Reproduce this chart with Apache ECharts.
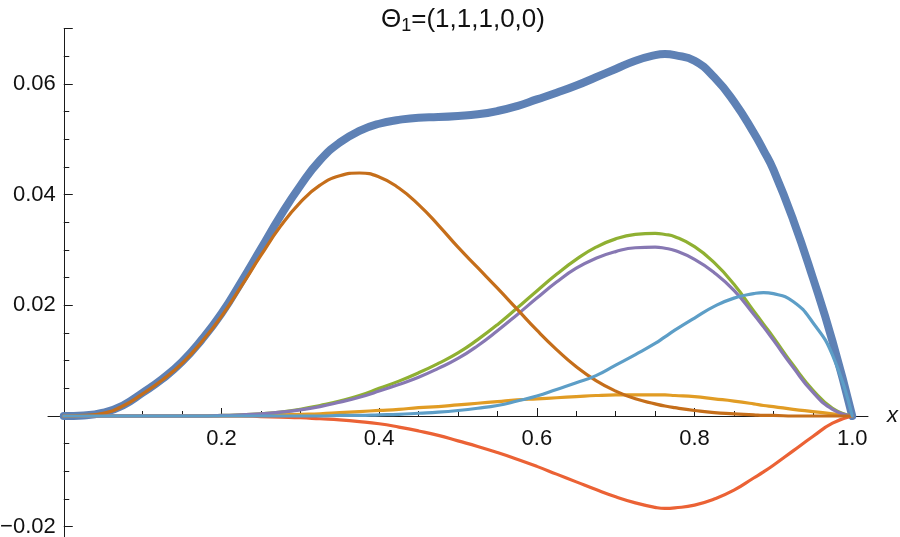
<!DOCTYPE html>
<html>
<head>
<meta charset="utf-8">
<script src="https://cdn.jsdelivr.net/npm/echarts@6/dist/echarts.min.js"></script>
<style>
  html, body { margin: 0; padding: 0; background: #fff; }
  #main { width: 900px; height: 537px; }
</style>
</head>
<body>
<div id="main"></div>
<script>
// sample points along x (extra points near the peaks)
var xs = [0, 0.025, 0.05, 0.075, 0.1, 0.125, 0.15, 0.175, 0.2, 0.225, 0.25, 0.275, 0.3, 0.325, 0.35, 0.375, 0.4, 0.425, 0.45, 0.475, 0.5,
    0.525, 0.55, 0.575, 0.6, 0.625, 0.65, 0.675, 0.7, 0.725, 0.75, 0.7625, 0.775, 0.8, 0.825, 0.85, 0.875, 0.8875, 0.9, 0.925, 0.95, 0.975, 1]

// thick blue: total
var total = [0, 0.0001, 0.0006, 0.0019, 0.0042, 0.0067, 0.0098, 0.0138, 0.0185, 0.0242, 0.0302, 0.0362, 0.0416, 0.0462, 0.0494, 0.0515, 0.0528, 0.0535, 0.0539, 0.054, 0.0542,
    0.0545, 0.0551, 0.056, 0.0572, 0.0584, 0.0597, 0.0612, 0.0627, 0.0642, 0.0652, 0.0654, 0.0652, 0.0642, 0.0612, 0.0568, 0.0512, 0.048, 0.0445, 0.0355, 0.025, 0.0135, 0]
// orange
var f1 = [0, 0, 0, 0, 0, 0, 0, 0, 0, 0, 0.0001, 0.0002, 0.0003, 0.0004, 0.0006, 0.0008, 0.001, 0.0012, 0.0015, 0.0017, 0.002,
    0.0023, 0.0026, 0.0029, 0.0031, 0.0033, 0.0035, 0.0037, 0.0038, 0.0038, 0.0038, 0.0038, 0.0037, 0.0035, 0.0031, 0.0027, 0.0022, 0.0019, 0.0017, 0.0012, 0.0008, 0.0004, 0]
// green
var f2 = [0, 0, 0, 0, 0, 0, 0, 0, 0.0001, 0.0002, 0.0004, 0.0007, 0.0012, 0.0019, 0.0027, 0.0037, 0.005, 0.0063, 0.0078, 0.0095, 0.0114,
    0.0138, 0.0165, 0.0195, 0.0226, 0.0256, 0.0283, 0.0305, 0.032, 0.0328, 0.033, 0.0328, 0.0324, 0.0306, 0.0277, 0.0238, 0.019, 0.0166, 0.0142, 0.0092, 0.0047, 0.0014, 0]
// red (negative)
var f3 = [0, 0, 0, 0, 0, 0, 0, 0, 0, 0, -0.0001, -0.0002, -0.0003, -0.0005, -0.0007, -0.001, -0.0014, -0.002, -0.0027, -0.0035, -0.0045,
    -0.0055, -0.0066, -0.0078, -0.0091, -0.0105, -0.0119, -0.0133, -0.0146, -0.0157, -0.0165, -0.0167, -0.0166, -0.0161, -0.015, -0.0134, -0.0112, -0.0101, -0.0089, -0.0063, -0.0037, -0.0013, 0]
// purple
var f4 = [0, 0, 0, 0, 0, 0, 0, 0, 0.0001, 0.0002, 0.0004, 0.0007, 0.0011, 0.0017, 0.0025, 0.0034, 0.0045, 0.0057, 0.007, 0.0086, 0.0104,
    0.0127, 0.0154, 0.0183, 0.0213, 0.0242, 0.0267, 0.0285, 0.0297, 0.0304, 0.0305, 0.0303, 0.0299, 0.0283, 0.0259, 0.0227, 0.0184, 0.0161, 0.0137, 0.0088, 0.0043, 0.0012, 0]
// brown
var f5 = [0, 0.0001, 0.0005, 0.0018, 0.004, 0.0065, 0.0095, 0.0134, 0.018, 0.0234, 0.029, 0.0343, 0.0386, 0.0417, 0.0434, 0.0439, 0.0432, 0.0412, 0.0382, 0.0345, 0.0305,
    0.0268, 0.0231, 0.0193, 0.0155, 0.012, 0.0089, 0.0064, 0.0045, 0.0031, 0.0022, 0.0018, 0.0015, 0.001, 0.0006, 0.0004, 0.0002, 0.0001, 0.0001, 0, 0, 0, 0]
// light blue
var f6 = [0, 0, 0, 0, 0, 0, 0, 0, 0, 0, 0, 0, 0, 0, 0.0001, 0.0001, 0.0002, 0.0003, 0.0005, 0.0007, 0.001,
    0.0014, 0.0019, 0.0027, 0.0036, 0.0048, 0.006, 0.0073, 0.0092, 0.0111, 0.0131, 0.0143, 0.0155, 0.0177, 0.0198, 0.0213, 0.0221, 0.0223, 0.0221, 0.0207, 0.0169, 0.011, 0]

var xTicks = [0.2, 0.4, 0.6, 0.8, 1.0]
var yTicks = [-0.02, 0.02, 0.04, 0.06]

var font = "'Liberation Sans', Arial, sans-serif"
var axisColor = '#1a1a1a'
var textColor = '#111'

function pairs(vals) {
    return xs.map(function (x, i) { return [x, vals[i]] })
}

function line(vals, color, width) {
    return {
        type: 'line',
        xAxisIndex: 0,
        yAxisIndex: 0,
        data: pairs(vals),
        smooth: 0.5,
        showSymbol: false,
        lineStyle: { color: color, width: width, cap: 'round' },
        itemStyle: { color: color }
    }
}

function isTick(list, v) {
    return list.some(function (t) { return Math.abs(t - v) < 1e-9 })
}

var chart = echarts.init(document.getElementById('main'))
chart.setOption({
    animation: false,
    backgroundColor: '#fff',
    title: {
        text: '{t|Θ}{s|1}{t|=(1,1,1,0,0)}',
        left: 458,
        top: 0,
        textAlign: 'center',
        textStyle: {
            fontWeight: 'normal',
            rich: {
                t: { fontFamily: font, fontSize: 26, fontWeight: 'normal', color: textColor, lineHeight: 30 },
                s: { fontFamily: font, fontSize: 18, fontWeight: 'normal', color: textColor, lineHeight: 18, verticalAlign: 'bottom' }
            }
        }
    },
    grid: [
        // 0: curves and the long axis lines
        { left: 48, right: 32, top: 28.55, bottom: 0, outerBoundsMode: 'none', containLabel: false },
        // 1: x ticks, bottom edge sits on y = 0
        { left: 63.77, right: 47.77, top: 28.55, bottom: 121, outerBoundsMode: 'none', containLabel: false },
        // 2: y ticks from -0.02 to 0.07
        { left: 63.77, right: 47.77, top: 28.55, bottom: 10.3, outerBoundsMode: 'none', containLabel: false }
    ],
    xAxis: [
        {
            gridIndex: 0, type: 'value', min: -0.02, max: 1.02,
            axisLine: { onZero: true, lineStyle: { color: axisColor, width: 1 } },
            axisTick: { show: false },
            axisLabel: { show: false },
            splitLine: { show: false },
            name: 'x',
            nameLocation: 'end',
            nameGap: 19,
            nameTextStyle: { fontFamily: font, fontStyle: 'italic', fontSize: 22, color: textColor, verticalAlign: 'middle' }
        },
        {
            gridIndex: 1, type: 'value', min: 0, max: 1, interval: 0.2, position: 'bottom',
            axisLine: { show: false, onZero: false },
            axisTick: { inside: true, length: 8, lineStyle: { color: axisColor } },
            minorTick: { show: true, splitNumber: 4, length: 5, lineStyle: { color: axisColor } },
            axisLabel: {
                margin: 12,
                fontFamily: font,
                fontSize: 22,
                color: textColor,
                formatter: function (v) {
                    return isTick(xTicks, v) ? v.toFixed(1) : ''
                }
            },
            splitLine: { show: false }
        },
        {
            gridIndex: 2, type: 'value', min: 0, max: 1, show: false
        }
    ],
    yAxis: [
        {
            gridIndex: 0, type: 'value', min: -0.02186, max: 0.07,
            axisLine: { onZero: true, lineStyle: { color: axisColor, width: 1 } },
            axisTick: { show: false },
            axisLabel: { show: false },
            splitLine: { show: false }
        },
        {
            gridIndex: 1, type: 'value', min: 0, max: 0.07, show: false
        },
        {
            gridIndex: 2, type: 'value', min: -0.02, max: 0.07, interval: 0.02, position: 'left',
            axisLine: { show: false, onZero: false },
            axisTick: { inside: true, length: 9, lineStyle: { color: axisColor } },
            minorTick: { show: true, splitNumber: 4, length: 5.5, lineStyle: { color: axisColor } },
            axisLabel: {
                margin: 8,
                fontFamily: font,
                fontSize: 22,
                color: textColor,
                formatter: function (v) {
                    if (!isTick(yTicks, v)) return ''
                    return v < 0 ? '\u2212' + Math.abs(v).toFixed(2) : v.toFixed(2)
                }
            },
            splitLine: { show: false }
        }
    ],
    series: [
        line(total, '#5E81B5', 8),
        line(f1, '#E19C24', 3.2),
        line(f2, '#8FB032', 3.2),
        line(f3, '#EB6235', 3.2),
        line(f4, '#8778B3', 3.2),
        line(f5, '#C56E1A', 3.2),
        line(f6, '#5D9EC7', 3.2)
    ]
})
</script>
</body>
</html>
